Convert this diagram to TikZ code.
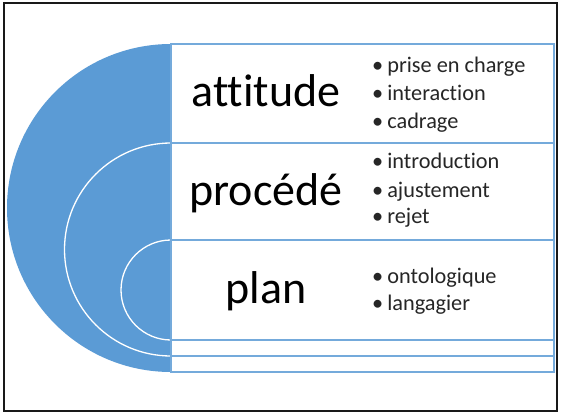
\documentclass[tikz,border=0pt]{standalone}
\usepackage{fontspec}
\setmainfont{Carlito}[Ligatures={NoCommon,NoRare},RawFeature={-liga;-dlig;-calt}]
\definecolor{sablue}{HTML}{5B9BD5}
\begin{document}
\begin{tikzpicture}[x=1pt,y=1pt,
  band/.style={draw=sablue!85,line width=1.2pt,fill=white},
  ring/.style={draw=white,line width=1.3pt},
  big/.style={anchor=base,inner sep=0pt,font=\fontsize{46}{50}\selectfont},
  item/.style={anchor=base west,inner sep=0pt,font=\fontsize{22.3}{24}\selectfont,text=black!85}]
\useasboundingbox (0,0) rectangle (562,416);
\fill[white] (0,0) rectangle (562,416);
% half disc
\fill[sablue] (171,372) arc[start angle=90,end angle=270,radius=164] -- cycle;
\draw[ring] (171,273) arc[start angle=90,end angle=270,radius=106.5];
\draw[ring] (171,176) arc[start angle=90,end angle=270,radius=50];
% rectangles
\draw[band] (171,44) rectangle (554,372);
\draw[band] (171,60) rectangle (554,273);
\draw[band] (171,76) rectangle (554,176);
% frame
\draw[line width=1.6pt,black!90] (4,5) rectangle (557,413);
% titles
\node[big] (t1) at (266,309) {attitude};
\node[big] (t2) at (266,211) {procédé};
\node[big] (t3) at (266,113) {plan};
% items
\node[item] (a1) at (372,344) {•\hspace{4pt}prise en charge};
\node[item] (a2) at (372,316) {•\hspace{4pt}interaction};
\node[item] (a3) at (372,288) {•\hspace{4pt}cadrage};
\node[item] (b1) at (372,248) {•\hspace{4pt}introduction};
\node[item] (b2) at (372,219) {•\hspace{4pt}ajustement};
\node[item] (b3) at (372,193) {•\hspace{4pt}rejet};
\node[item] (c1) at (372,133) {•\hspace{4pt}ontologique};
\node[item] (c2) at (372,106) {•\hspace{4pt}langagier};
\end{tikzpicture}
\end{document}
